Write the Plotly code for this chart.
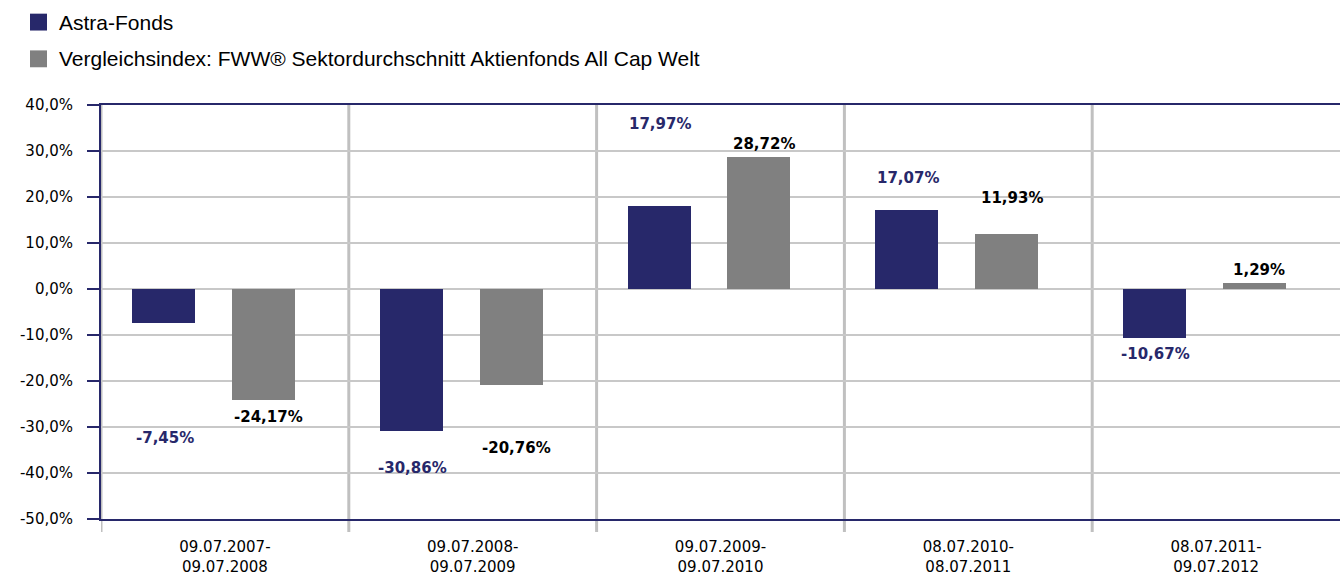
import plotly.graph_objects as go

# ---- data ----
periods = ["09.07.2007-<br>09.07.2008", "09.07.2008-<br>09.07.2009", "09.07.2009-<br>09.07.2010",
           "08.07.2010-<br>08.07.2011", "08.07.2011-<br>09.07.2012"]
astra = [-7.45, -30.86, 17.97, 17.07, -10.67]
index_vals = [-24.17, -20.76, 28.72, 11.93, 1.29]
series_names = ["Astra-Fonds", "Vergleichsindex: FWW® Sektordurchschnitt Aktienfonds All Cap Welt"]
y_ticks = [40, 30, 20, 10, 0, -10, -20, -30, -40, -50]
y_ticktext = [f"{v:.1f}".replace(".", ",") + "%" for v in y_ticks]

# ---- style ----
NAVY = "#27286A"
GRAY = "#808080"
GRID = "#C8C8C8"
VGRID = "#C0C0C0"
TICKFONT = "DejaVu Sans, Verdana, sans-serif"
LEGFONT = "Liberation Sans, Arial, sans-serif"

# label offsets (percentage points from bar end) mimicking reference placement
astra_label_off = [-24.85, -8.1, 17.9, 7.1, -3.5]
index_label_off = [-3.6, -13.7, 2.7, 7.8, 2.9]

def fmt(v):
    return f"{v:.2f}".replace(".", ",") + "%"

xs = list(range(len(periods)))

fig = go.Figure()
fig.add_trace(go.Bar(x=xs, y=astra, name=series_names[0], marker=dict(color=NAVY, line=dict(width=0)),
                     width=0.254, offset=-0.375, showlegend=False, hoverinfo="y"))
fig.add_trace(go.Bar(x=xs, y=index_vals, name=series_names[1], marker=dict(color=GRAY, line=dict(width=0)),
                     width=0.254, offset=0.028, showlegend=False, hoverinfo="y"))

annotations = []
for i, (a, b) in enumerate(zip(astra, index_vals)):
    annotations.append(dict(x=i - 0.375 + 0.127 + 0.005, y=a + astra_label_off[i], text=fmt(a), showarrow=False,
                            font=dict(family=TICKFONT, size=15, color=NAVY, weight="bold"),
                            xanchor="center", yanchor="middle"))
    annotations.append(dict(x=i + 0.028 + 0.127 + 0.02, y=b + index_label_off[i], text=fmt(b), showarrow=False,
                            font=dict(family=TICKFONT, size=15, color="#000000", weight="bold"),
                            xanchor="center", yanchor="middle"))

# custom legend (large squares)
MT, MB = 105, 54
PW, PH, PB = 1239, 576 - MT - MB, 576 - MB
shapes = []
leg_colors = [NAVY, GRAY]
for k, (nm, col) in enumerate(zip(series_names, leg_colors)):
    y_top = 13 + 37 * k
    shapes.append(dict(type="rect", xref="paper", yref="paper",
                       x0=(30 - 101) / PW, x1=(47 - 101) / PW,
                       y0=(PB - y_top) / PH, y1=(PB - y_top - 17) / PH,
                       fillcolor=col, line=dict(width=0)))
    annotations.append(dict(xref="paper", yref="paper", x=(57 - 101) / PW, y=(PB - y_top - 8.5) / PH,
                            text=nm, showarrow=False, xanchor="left", yanchor="middle",
                            font=dict(family=LEGFONT, size=21, color="#000000")))

# vertical category separators extending below the axis
for i in range(len(periods)):
    shapes.append(dict(type="line", xref="x", yref="paper", x0=i - 0.5, x1=i - 0.5,
                       y0=-13 / PH, y1=1, line=dict(color=VGRID, width=3), layer="below"))

fig.update_layout(
    width=1340, height=576,
    margin=dict(l=101, r=0, t=MT, b=MB, pad=0),
    plot_bgcolor="white", paper_bgcolor="white",
    bargap=0,
    barmode="overlay",
    shapes=shapes,
    annotations=annotations,
    xaxis=dict(range=[-0.5, 4.5], tickvals=xs, ticktext=periods, showgrid=False, zeroline=False,
               showline=True, linecolor=NAVY, linewidth=2, mirror=True,
               ticks="outside", ticklen=13, tickcolor="rgba(0,0,0,0)",
               tickfont=dict(family=TICKFONT, size=15, color="#000000")),
    yaxis=dict(range=[-50, 40], tickvals=y_ticks, ticktext=y_ticktext,
               showgrid=True, gridcolor=GRID, gridwidth=1.5, zeroline=False,
               showline=True, linecolor=NAVY, linewidth=2, ticks="outside", ticklen=12,
               tickcolor=NAVY, tickwidth=2, ticklabelstandoff=11,
               tickfont=dict(family=TICKFONT, size=15, color="#000000")),
)

fig.write_html("out.html", config={"displayModeBar": False},
               post_script="document.body.style.margin='0';document.body.style.overflow='hidden';")
